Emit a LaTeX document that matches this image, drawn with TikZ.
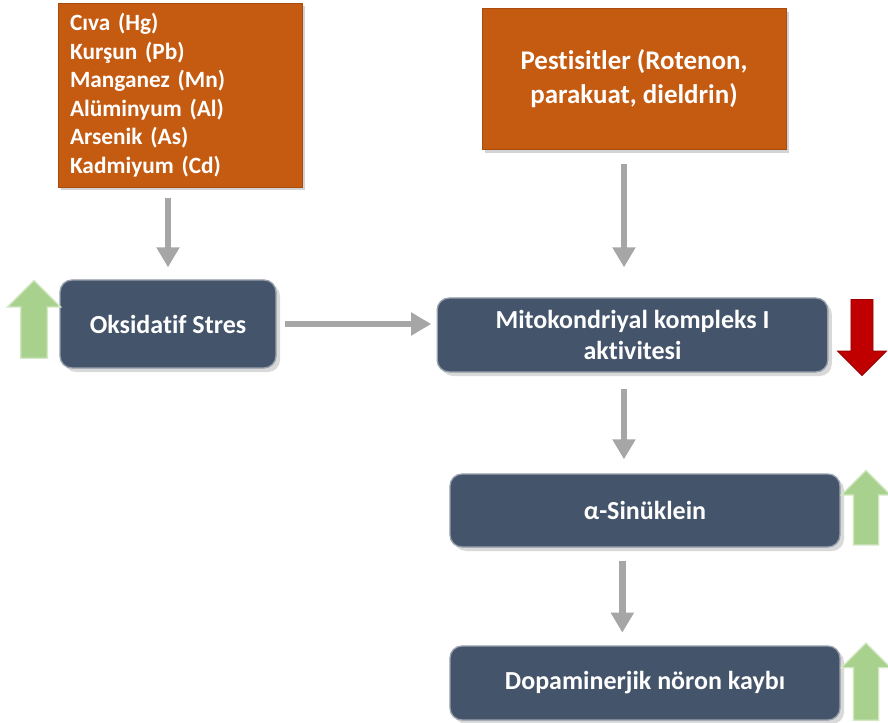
\documentclass[tikz,border=0pt]{standalone}
\usepackage{fontspec}
\setmainfont{Carlito}[Ligatures=NoCommon]
\usetikzlibrary{shapes.arrows,shadows,arrows.meta}
\definecolor{slate}{HTML}{44546A}
\definecolor{rust}{HTML}{C55A11}
\definecolor{linkgray}{HTML}{A6A6A6}
\definecolor{upgreen}{HTML}{A9D18E}
\definecolor{downred}{HTML}{C00000}
\newcommand{\shaft}[1]{\rule{0pt}{#1}}
\tikzset{
  metal/.style={draw=rust!85!black, line width=0.6pt, fill=rust, text=white,
    font=\bfseries\fontsize{17.5}{21.4}\selectfont, inner sep=0pt,
    drop shadow={shadow xshift=2pt, shadow yshift=-2.5pt, opacity=.35}},
  stage/.style={rounded corners=9pt, fill=slate, draw=slate!55!white, line width=1pt,
    text=white, align=center, inner sep=0pt,
    font=\bfseries\fontsize{19.5}{23.5}\selectfont,
    drop shadow={shadow xshift=3pt, shadow yshift=-3pt, opacity=.3}},
  link/.style={draw=linkgray, line width=5pt,
    -{Triangle[length=15pt,width=16.5pt]}},
  uparrow/.style={single arrow, rotate=90, fill=upgreen, draw=upgreen!50!white,
    line width=1pt, inner sep=0pt, single arrow head extend=10pt},
  downarrow/.style={single arrow, rotate=-90, fill=downred, draw=downred!80!black,
    line width=0.6pt, inner sep=0pt, single arrow head extend=10pt}
}
\begin{document}
\begin{tikzpicture}[x=0.75pt,y=-0.75pt]
    \useasboundingbox (0,0) rectangle (888,723);
    \node[metal, text width=165pt, minimum height=138pt, inner xsep=9pt, align=left] (metals) at (180,95)
      {Cıva (Hg)\\Kurşun (Pb)\\Manganez (Mn)\\Alüminyum (Al)\\Arsenik (As)\\Kadmiyum (Cd)};
    \node[metal, minimum width=228pt, minimum height=105.75pt, align=center,
      font=\bfseries\fontsize{20.2}{25.5}\selectfont] (pest) at (634,79)
      {Pestisitler (Rotenon,\\parakuat, dieldrin)};
    \node[stage, minimum width=162pt, minimum height=66pt] (oks) at (168,324) {Oksidatif Stres};
    \node[stage, minimum width=293pt, minimum height=55.5pt] (mito) at (632.5,335)
      {Mitokondriyal kompleks I\\aktivitesi};
    \node[stage, minimum width=292.5pt, minimum height=54.75pt] (sin) at (645,510.5) {α-Sinüklein};
    \node[stage, minimum width=292.5pt, minimum height=55.5pt] (dop) at (645,683) {Dopaminerjik nöron kaybı};
    \node[uparrow, minimum height=58.5pt] (oksup) at (34,326) {\shaft{19pt}};
    \node[downarrow, minimum height=57pt] (mitodown) at (862,332) {\shaft{16pt}};
    \node[uparrow, minimum height=56pt, single arrow head extend=9pt] (sinup) at (866,514) {\shaft{18pt}};
    \node[uparrow, minimum height=58pt, single arrow head extend=9pt] (dopup) at (866,688) {\shaft{18pt}};
    \draw[link, shorten <=8pt, shorten >=9pt] (metals.south -| oks.north) -- (oks.north);
    \draw[link, shorten <=10.5pt, shorten >=22.5pt] ([xshift=-7.5pt]pest.south) -- ([xshift=-7.5pt]pest.south |- mito.north);
    \draw[link, shorten <=6pt, shorten >=4pt] (oks.east) -- (oks.east -| mito.west);
    \draw[link, shorten <=12pt, shorten >=10.5pt] ([xshift=-6.4pt]mito.south) -- ([xshift=-6.4pt]mito.south |- sin.north);
    \draw[link, shorten <=10pt, shorten >=9.5pt] ([xshift=-17pt]sin.south) -- ([xshift=-17pt]sin.south |- dop.north);
\end{tikzpicture}
\end{document}
